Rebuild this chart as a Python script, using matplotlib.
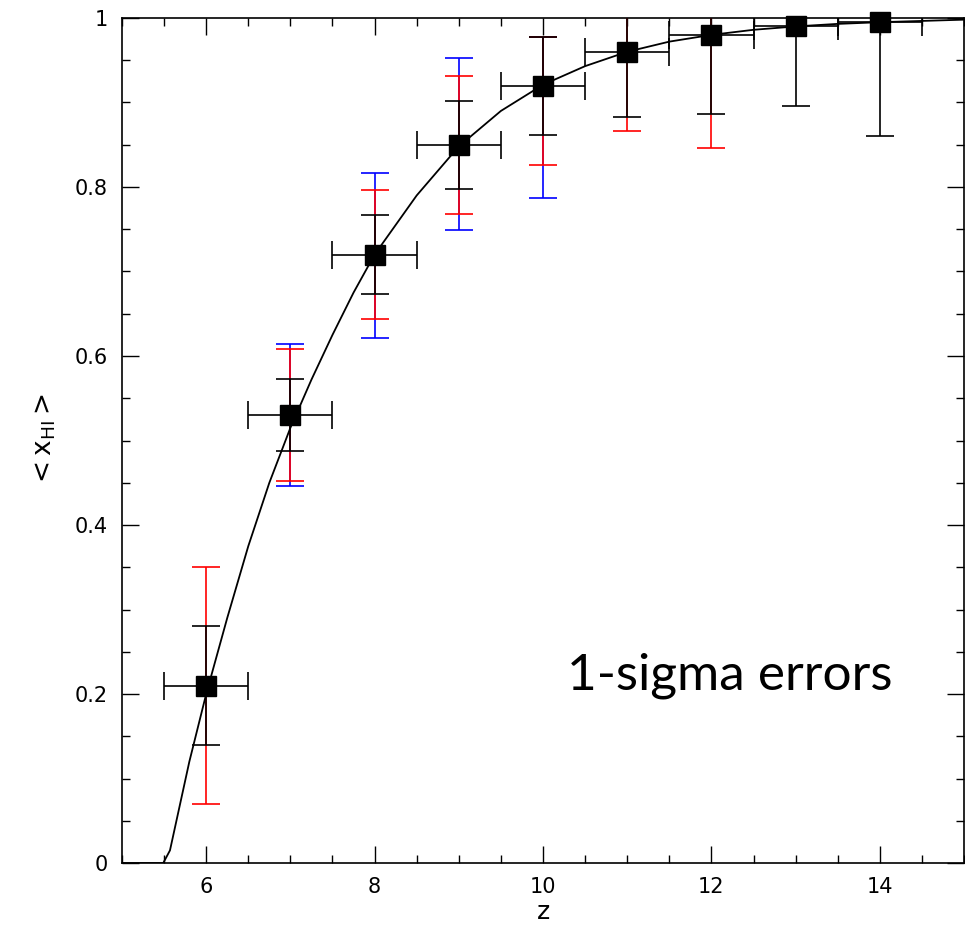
import numpy as np
import matplotlib
matplotlib.use("Agg")
from matplotlib import pyplot as plt
from matplotlib.ticker import MultipleLocator

# data
z = [6, 7, 8, 9, 10, 11, 12, 13, 14]
xhi = [0.21, 0.53, 0.72, 0.85, 0.92, 0.96, 0.98, 0.99, 0.995]
zErr = [0.5, 0.5, 0.5, 0.5, 0.5, 0.5, 0.5, 0.5, 0.5]
blackErr = [0.07, 0.043, 0.047, 0.052, 0.058, 0.077, 0.094, 0.094, 0.135]

zRed = [6, 7, 8, 9, 10, 11, 12]
xhiRed = [0.21, 0.53, 0.72, 0.85, 0.92, 0.96, 0.98]
redLow = [0.14, 0.078, 0.076, 0.082, 0.094, 0.094, 0.134]
redHigh = [0.14, 0.078, 0.077, 0.081, 0.058, 0.094, 0.134]

zBlue = [7, 8, 9, 10]
xhiBlue = [0.53, 0.72, 0.85, 0.92]
blueLow = [0.084, 0.099, 0.101, 0.133]
blueHigh = [0.084, 0.097, 0.103, 0.058]

# model curve
zCurve = [5.0, 5.49, 5.57, 5.8, 6.0, 6.25, 6.5, 6.75, 7.0, 7.25, 7.5, 7.75,
          8.0, 8.5, 9.0, 9.5, 10.0, 10.5, 11.0, 11.5, 12.0, 12.5, 13.0,
          13.5, 14.0, 15.0]
xhiCurve = [0.0, 0.0, 0.015, 0.12, 0.2, 0.29, 0.375, 0.45, 0.515, 0.572,
            0.625, 0.675, 0.72, 0.79, 0.848, 0.89, 0.921, 0.943, 0.96,
            0.972, 0.98, 0.986, 0.99, 0.993, 0.995, 0.998]

fig = plt.figure(figsize=(9.65, 9.31), dpi=100)
ax = fig.add_axes([0.1264, 0.073, 0.8726, 0.9077])

cap = 10
lw = 1.2

ax.errorbar(zBlue, xhiBlue, yerr=[blueLow, blueHigh], fmt='none', ecolor='#0000ff',
            elinewidth=lw, capsize=cap, capthick=lw, zorder=2)
ax.errorbar(zRed, xhiRed, yerr=[redLow, redHigh], fmt='none', ecolor='#ff0000',
            elinewidth=lw, capsize=cap, capthick=lw, zorder=3)
ax.errorbar(z, xhi, yerr=blackErr, xerr=zErr, fmt='none', ecolor='black',
            elinewidth=lw, capsize=cap, capthick=lw, zorder=4)

ax.plot(zCurve, xhiCurve, color='black', lw=1.3, zorder=5)
ax.plot(z, xhi, 's', color='black', markersize=14, zorder=6, clip_on=False)

ax.set_xlim(5, 15)
ax.set_ylim(0, 1)

ax.xaxis.set_major_locator(MultipleLocator(2))
ax.xaxis.set_minor_locator(MultipleLocator(0.5))
ax.yaxis.set_major_locator(MultipleLocator(0.2))
ax.yaxis.set_minor_locator(MultipleLocator(0.05))
ax.set_yticks([0, 0.2, 0.4, 0.6, 0.8, 1.0])
ax.set_yticklabels(['0', '0.2', '0.4', '0.6', '0.8', '1'])

ax.tick_params(which='both', direction='in', top=True, right=True, width=1.0)
ax.tick_params(which='major', length=12, labelsize=15, pad=10)
ax.tick_params(which='minor', length=6)
for s in ax.spines.values():
    s.set_linewidth(1.2)

ax.set_xlabel('z', fontsize=18, labelpad=2)
ax.set_ylabel(r'$<\mathrm{x}_{\mathrm{HI}}>$', fontsize=19, labelpad=12)

ax.text(0.915, 0.222, '1-sigma errors', transform=ax.transAxes,
        ha='right', va='center', fontsize=37, family='Lato')

fig.savefig('out.png', dpi=100)
